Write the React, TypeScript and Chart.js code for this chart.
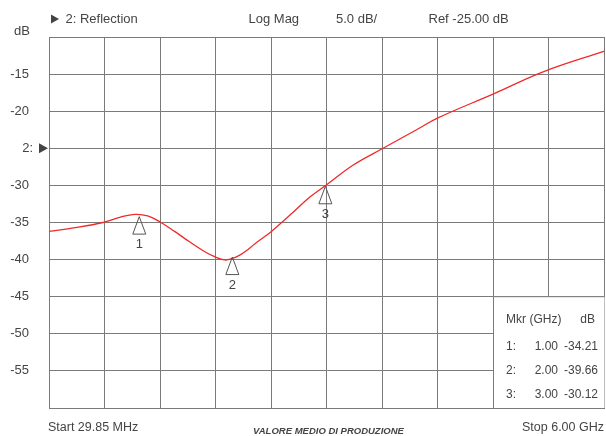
import React, { useEffect, useRef } from "react";
import { Chart, registerables } from "chart.js";

Chart.register(...registerables);

const freqGHz = [0.03, 0.31, 0.61, 0.79, 0.95, 1.09, 1.22, 1.38, 1.54, 1.7, 1.81, 1.92, 2.0, 2.08, 2.15, 2.24, 2.42, 2.62, 2.83, 3.01, 3.3, 3.62, 3.98, 4.21, 4.82, 5.34, 6.0];
const reflectionDb = [-36.2, -35.7, -35.0, -34.3, -33.9, -34.1, -34.9, -36.2, -37.6, -38.9, -39.6, -40.05, -39.85, -39.4, -38.8, -37.9, -36.2, -34.0, -31.6, -29.95, -27.25, -25.0, -22.5, -20.9, -17.6, -14.7, -11.9];

const markerIds = ["1", "2", "3"];
const markerFreq = [1.0, 2.0, 3.0];
const markerDb = [-34.21, -39.66, -30.12];

const startGHz = 0.02985;
const stopGHz = 6.0;
const yMin = -60;
const yMax = -10;
const yStep = 5;
const refLevel = -25;

const headerTexts = ["2: Reflection", "Log Mag", "5.0 dB/", "Ref -25.00 dB"];
const startLabel = "Start 29.85 MHz";
const stopLabel = "Stop 6.00 GHz";
const footerLabel = "VALORE MEDIO DI PRODUZIONE";

const FONT = "'Liberation Sans', Arial, sans-serif";
const TEXT = "#444";
const GRID = "#7a7a7a";

const overlayPlugin = {
  id: "overlay",
  afterDraw(chart: any) {
    const ctx = chart.ctx as CanvasRenderingContext2D;
    const xs = chart.scales.x;
    const ys = chart.scales.y;
    const area = chart.chartArea;
    ctx.save();
    ctx.fillStyle = TEXT;
    ctx.textBaseline = "middle";
    ctx.font = `13px ${FONT}`;

    // header
    ctx.beginPath();
    ctx.moveTo(51, 14.5);
    ctx.lineTo(59, 19);
    ctx.lineTo(51, 23.5);
    ctx.closePath();
    ctx.fill();
    ctx.textAlign = "left";
    ctx.fillText(headerTexts[0], 65.5, 19);
    ctx.fillText(headerTexts[1], 248.5, 19);
    ctx.fillText(headerTexts[2], 336, 19);
    ctx.fillText(headerTexts[3], 428.5, 19);

    // dB unit
    ctx.fillText("dB", 14, 31.5);

    // reference marker
    const ry = ys.getPixelForValue(refLevel);
    ctx.textAlign = "right";
    ctx.fillText("2:", 33, ry);
    ctx.beginPath();
    ctx.moveTo(39, ry - 5);
    ctx.lineTo(48, ry);
    ctx.lineTo(39, ry + 5);
    ctx.closePath();
    ctx.fill();

    // markers
    ctx.strokeStyle = "#555";
    ctx.lineWidth = 1;
    ctx.textAlign = "center";
    for (let i = 0; i < markerFreq.length; i++) {
      const px = xs.getPixelForValue(markerFreq[i]);
      const py = ys.getPixelForValue(markerDb[i]);
      ctx.beginPath();
      ctx.moveTo(px, py);
      ctx.lineTo(px + 6.5, py + 17.5);
      ctx.lineTo(px - 6.5, py + 17.5);
      ctx.closePath();
      ctx.stroke();
      ctx.fillText(markerIds[i], px, py + 28);
    }

    // marker table
    const bx = 493.5;
    const by = ys.getPixelForValue(-45);
    ctx.fillStyle = "#fff";
    ctx.fillRect(bx, by, area.right - bx, area.bottom - by);
    ctx.strokeStyle = GRID;
    ctx.beginPath();
    ctx.moveTo(bx, area.bottom);
    ctx.lineTo(bx, by);
    ctx.lineTo(area.right, by);
    ctx.stroke();
    ctx.fillStyle = TEXT;
    ctx.font = `12px ${FONT}`;
    ctx.textAlign = "left";
    ctx.fillText("Mkr", 506, 320);
    ctx.fillText("(GHz)", 529.5, 320);
    ctx.textAlign = "right";
    ctx.fillText("dB", 595, 320);
    const rowY = [347, 371, 395];
    for (let i = 0; i < markerIds.length; i++) {
      ctx.textAlign = "left";
      ctx.fillText(markerIds[i] + ":", 506, rowY[i]);
      ctx.textAlign = "right";
      ctx.fillText(markerFreq[i].toFixed(2), 558, rowY[i]);
      ctx.fillText(markerDb[i].toFixed(2), 598, rowY[i]);
    }

    // footer
    ctx.font = `12.5px ${FONT}`;
    ctx.textAlign = "left";
    ctx.fillText(startLabel, 48, 428);
    ctx.textAlign = "right";
    ctx.fillText(stopLabel, 604, 428);
    ctx.font = `italic bold 9.5px ${FONT}`;
    ctx.textAlign = "center";
    ctx.fillText(footerLabel, 328.5, 431);
    ctx.restore();
  },
};

export default function App() {
  const ref = useRef<HTMLCanvasElement | null>(null);
  useEffect(() => {
    if (!ref.current) return;
    const chart = new Chart(ref.current, {
      type: "line",
      data: {
        datasets: [
          {
            data: freqGHz.map((f, i) => ({ x: f, y: reflectionDb[i] })),
            borderColor: "#ee2a2a",
            borderWidth: 1.3,
            pointRadius: 0,
            fill: false,
            tension: 0.4,
          },
        ],
      },
      options: {
        animation: false,
        responsive: false,
        devicePixelRatio: 1,
        layout: { padding: { left: 0, top: 37, right: 1.5, bottom: 28 } },
        plugins: { legend: { display: false }, tooltip: { enabled: false } },
        scales: {
          x: {
            type: "linear",
            min: startGHz,
            max: stopGHz,
            afterBuildTicks: (s: any) => {
              const t = [];
              for (let i = 0; i <= 10; i++) t.push({ value: startGHz + ((stopGHz - startGHz) * i) / 10 });
              s.ticks = t;
            },
            afterFit: (s: any) => {
              s.height = 0;
            },
            ticks: { display: false },
            grid: { color: GRID, drawTicks: false, lineWidth: 1 },
            border: { color: GRID },
          },
          y: {
            min: yMin,
            max: yMax,
            afterFit: (s: any) => {
              s.width = 49;
            },
            ticks: {
              stepSize: yStep,
              padding: 20,
              color: TEXT,
              font: { family: FONT, size: 13 },
              callback: (v: any) => (v === yMin || v === yMax || v === refLevel ? "" : String(v)),
            },
            grid: { color: GRID, drawTicks: false, lineWidth: 1 },
            border: { color: GRID },
          },
        },
      },
      plugins: [overlayPlugin],
    } as any);
    return () => chart.destroy();
  }, []);
  return (
    <div style={{ position: "fixed", left: 0, top: 0, width: 606, height: 436, background: "#fff" }}>
      <canvas ref={ref} width={606} height={436} style={{ width: 606, height: 436 }} />
    </div>
  );
}
